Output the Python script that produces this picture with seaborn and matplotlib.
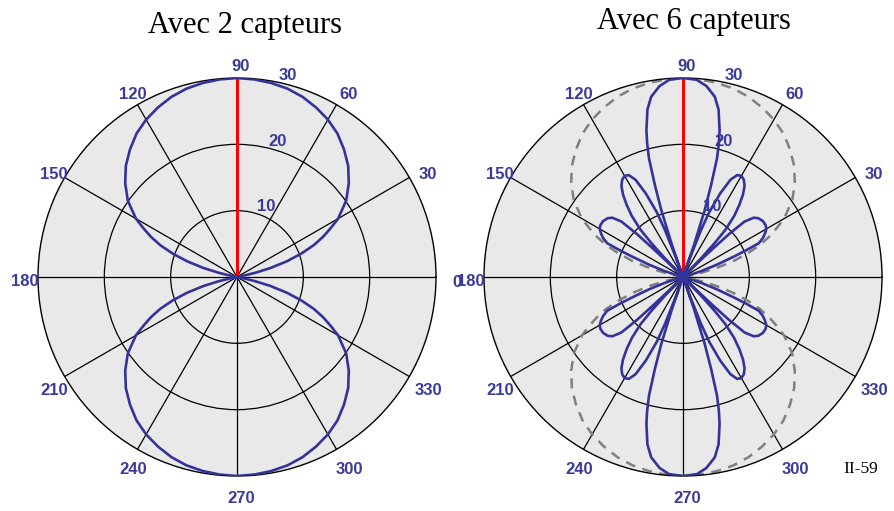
import numpy as np
import matplotlib
matplotlib.use("Agg")
import matplotlib.pyplot as plt
import seaborn as sns

# lecture des diagrammes (quart 0..90 deg, symetrique sur les 4 quadrants)
ANG_2 = [0, 10, 11, 12, 13, 15, 17.5, 20, 22.5, 25, 27.5, 30, 35, 40, 45,
         50, 55, 60, 65, 70, 75, 80, 85, 90]
R_2 = [0, 0, 0.6, 1.4, 2.8, 5.2, 7.9, 10.3, 12.5, 14.3, 15.9, 17.6, 20.1,
       22.0, 23.7, 25.1, 26.4, 27.4, 28.2, 28.9, 29.4, 29.7, 29.9, 30]

ANG_6 = [0, 15, 16, 18, 20, 22, 23, 24, 26, 28, 30, 32, 35, 38, 40, 42, 43,
         43.5, 44, 45, 45.5, 46, 47, 48, 50, 52, 54, 56, 58, 60, 62, 64, 66,
         68, 69, 70, 70.5, 71, 72, 73, 74, 75, 76, 78, 80, 83, 86, 90]
R_6 = [0, 0, 1, 3, 5.5, 8.5, 10.5, 12.5, 13.4, 14, 14.5, 14.7, 14.7, 14.4,
       13.9, 12.5, 9.5, 6, 3, 0, 0, 4, 7, 9.5, 12, 13.8, 15.4, 16.6, 17.3,
       17.6, 17.4, 16.3, 13.8, 10.5, 7.5, 3, 0, 5, 10.5, 14.5, 18.6, 20.9,
       22.8, 25.8, 27.6, 29, 29.8, 30]

VISEE_ANG = [90, 90]
VISEE_R = [0, 30]

ANGLE_TICKS = list(range(0, 360, 30))
R_TICKS = [10, 20, 30]
TITRES = ["Avec 2 capteurs", "Avec 6 capteurs"]

BLEU = "#333399"
BLEU_TXT = "#3a3a9c"
FOND = "#e9e9e9"


def miroir(ang, r):
    a = np.asarray(ang, float)
    r = np.asarray(r, float)
    th = np.concatenate([a, 180 - a[::-1], 180 + a, 360 - a[::-1]])
    rr = np.concatenate([r, r[::-1], r, r[::-1]])
    return np.deg2rad(th), rr


def prepare_axe(ax, angles):
    ax.set_facecolor(FOND)
    ax.set_ylim(0, 30)
    ax.set_yticks([10, 20])
    ax.set_yticklabels([])
    ax.set_xticks(np.deg2rad(ANGLE_TICKS))
    ax.set_xticklabels([])
    ax.tick_params(length=0)
    ax.grid(True, color="black", lw=0.9)
    ax.spines["polar"].set_color("black")
    ax.spines["polar"].set_linewidth(1.0)
    ax.set_xlabel("")
    ax.set_ylabel("")
    # etiquettes d'angle
    for a in angles:
        t = np.deg2rad(a)
        ax.annotate(str(a), xy=(t, 30), xycoords="data",
                    xytext=((17 * np.cos(t) + 4) * 0.72, (17 * np.sin(t) - 5) * 0.72),
                    textcoords="offset points", ha="center", va="center",
                    fontsize=12, fontweight="bold", color=BLEU_TXT,
                    annotation_clip=False)
    # etiquettes radiales
    for r in R_TICKS:
        ax.annotate(str(r), xy=(np.deg2rad(80.5), r), xycoords="data",
                    xytext=(6.5, 3.7), textcoords="offset points",
                    ha="left", va="center", fontsize=12, fontweight="bold",
                    color=BLEU_TXT, annotation_clip=False, zorder=6)


sns.set_style("white")
plt.rcParams["font.family"] = ["Liberation Sans", "DejaVu Sans"]

fig = plt.figure(figsize=(8.94, 5.11), dpi=100)
ax1 = fig.add_axes([38 / 894, 35 / 511, 398 / 894, 398 / 511], projection="polar")
ax2 = fig.add_axes([484 / 894, 35 / 511, 398 / 894, 398 / 511], projection="polar")

th2, r2 = miroir(ANG_2, R_2)
th6, r6 = miroir(ANG_6, R_6)
th_v = np.deg2rad(VISEE_ANG)

# gauche : 2 capteurs
sns.lineplot(x=th_v, y=VISEE_R, ax=ax1, color="red", lw=2.2, sort=False,
             estimator=None, zorder=3)
sns.lineplot(x=th2, y=r2, ax=ax1, color=BLEU, lw=1.9, sort=False,
             estimator=None, zorder=4)

# droite : 6 capteurs, avec le diagramme a 2 capteurs en pointilles
sns.lineplot(x=th2, y=r2, ax=ax2, color="#808080", lw=1.8, sort=False,
             estimator=None, zorder=2, linestyle=(0, (4, 3)))
sns.lineplot(x=th_v, y=VISEE_R, ax=ax2, color="red", lw=2.2, sort=False,
             estimator=None, zorder=3)
sns.lineplot(x=th6, y=r6, ax=ax2, color=BLEU, lw=1.9, sort=False,
             estimator=None, zorder=4)

prepare_axe(ax1, ANGLE_TICKS)
# le "0" du second diagramme tombe hors de l'image
prepare_axe(ax2, ANGLE_TICKS[1:])

fig.text(245 / 894, 1 - 33 / 511, TITRES[0], ha="center", va="baseline",
         fontsize=22, family="Liberation Serif", color="black")
fig.text(694 / 894, 1 - 29 / 511, TITRES[1], ha="center", va="baseline",
         fontsize=22, family="Liberation Serif", color="black")
fig.text(843 / 894, 1 - 473 / 511, "II-59", ha="left", va="baseline",
         fontsize=12.5, family="Liberation Serif", color="black")

fig.savefig("out.png", dpi=100)
